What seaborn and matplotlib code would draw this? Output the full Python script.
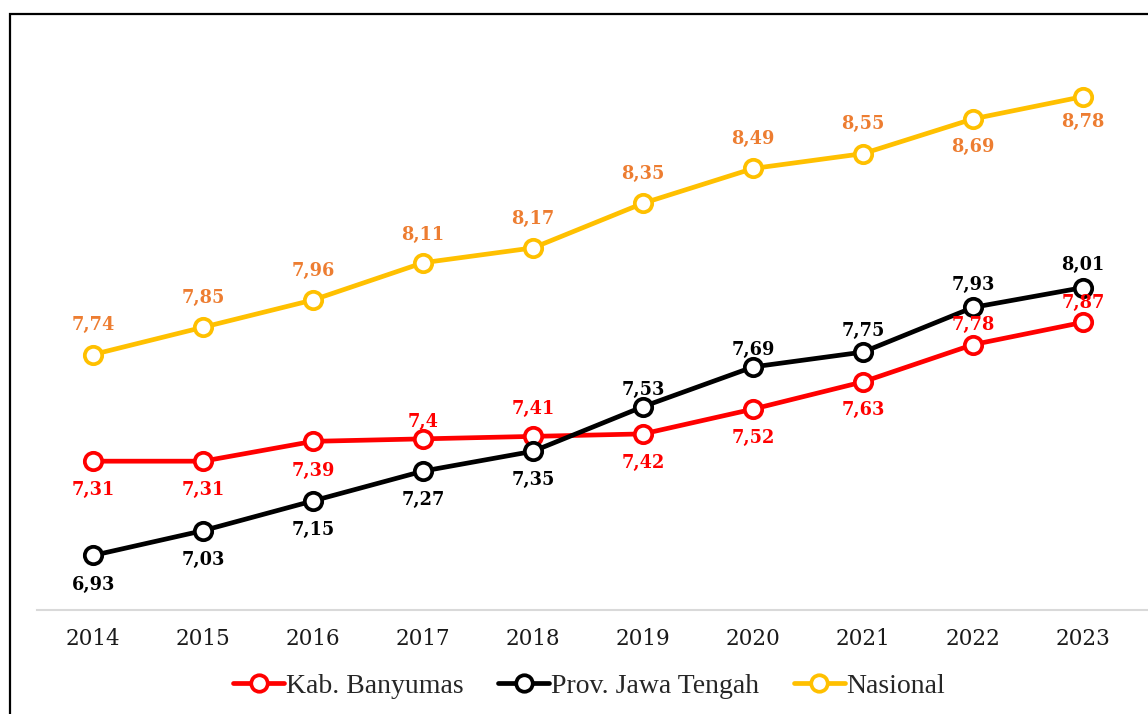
import pandas as pd
import seaborn as sns
import matplotlib.pyplot as plt
from matplotlib.patches import Rectangle

years = [2014, 2015, 2016, 2017, 2018, 2019, 2020, 2021, 2022, 2023]
banyumas = [7.31, 7.31, 7.39, 7.40, 7.41, 7.42, 7.52, 7.63, 7.78, 7.87]
jateng = [6.93, 7.03, 7.15, 7.27, 7.35, 7.53, 7.69, 7.75, 7.93, 8.01]
nasional = [7.74, 7.85, 7.96, 8.11, 8.17, 8.35, 8.49, 8.55, 8.69, 8.78]
seriesNames = ["Kab. Banyumas", "Prov. Jawa Tengah", "Nasional"]
lineColors = ["#FF0000", "#000000", "#FFC000"]
labelColors = ["#FF0000", "#000000", "#ED7D31"]
# label offsets in points: + above the point, - below
labelOffset = [
    [-21, -21, -21, 12, 20, -21, -21, -20, 14, 14],
    [-21, -21, -21, -21, -21, 12, 12, 15, 16, 16],
    [21, 21, 21, 20, 21, 21, 21, 21, -20, -18],
]

df = pd.DataFrame({
    "Tahun": years * 3,
    "Nilai": banyumas + jateng + nasional,
    "Wilayah": [seriesNames[0]] * 10 + [seriesNames[1]] * 10 + [seriesNames[2]] * 10,
})

sns.set_style("white")
fig = plt.figure(figsize=(11.48, 7.14), dpi=100)
ax = fig.add_axes([37 / 1148, 1 - 610 / 714, 1 - 37 / 1148, (610 - 42) / 714])

sns.lineplot(data=df, x="Tahun", y="Nilai", hue="Wilayah", hue_order=seriesNames,
             palette=lineColors, marker="o", markersize=12.5, linewidth=3.4,
             legend=False, ax=ax)
for line in ax.lines:
    line.set_markerfacecolor("white")
    line.set_markeredgecolor(line.get_color())
    line.set_markeredgewidth(2.7)

allVals = [banyumas, jateng, nasional]
for vals, col, offs in zip(allVals, labelColors, labelOffset):
    for x, v, o in zip(years, vals, offs):
        txt = f"{v:.2f}".rstrip("0").replace(".", ",")
        ax.annotate(txt, (x, v), xytext=(0, o), textcoords="offset points",
                    ha="center", va="center", color=col, fontsize=12.8,
                    fontweight="bold", family="DejaVu Serif")

ax.set_xlim(2013.49, 2023.59)
ax.set_ylim(6.71, 9.0)
ax.set_xticks(years)
ax.set_xticklabels([str(y) for y in years], family="DejaVu Serif", fontsize=15.5,
                   color="#1a1a1a")
ax.set_yticks([])
ax.set_xlabel("")
ax.set_ylabel("")
ax.tick_params(axis="x", length=0, pad=13)
for sp in ["top", "right", "left"]:
    ax.spines[sp].set_visible(False)
ax.spines["bottom"].set_color("#d9d9d9")
ax.spines["bottom"].set_linewidth(1.5)

ax.legend(ax.lines[:3], seriesNames, loc="center", bbox_to_anchor=(589 / 1148, 1 - 686 / 714),
          bbox_transform=fig.transFigure, ncol=3, frameon=False,
          prop={"family": "Liberation Serif", "size": 20}, handlelength=1.85,
          handletextpad=0.05, columnspacing=1.25, markerscale=0.95)

fig.patches.append(Rectangle((10 / 1148, -0.1), 1.2, 1.1 - 14 / 714, fill=False,
                             edgecolor="black", linewidth=1.6, transform=fig.transFigure))

plt.savefig("out.png", dpi=100)
